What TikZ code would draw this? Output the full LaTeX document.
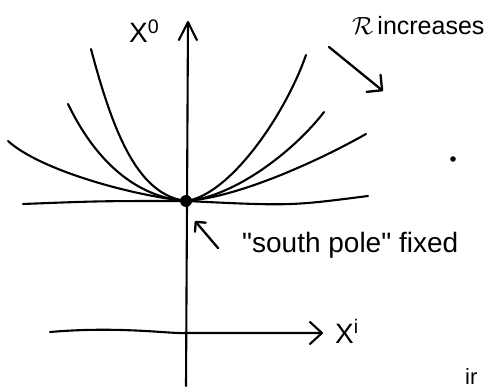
\documentclass[tikz,border=0pt]{standalone}
\usepackage{fontspec}
\setmainfont{Liberation Sans}
\usetikzlibrary{arrows.meta, positioning}

\begin{document}
\begin{tikzpicture}[
        x=1pt, y=-1pt,
        >={Straight Barb[length=18pt, width=18pt, round]},
        axis/.style={->, line width=2.1pt, line cap=round},
        curve/.style={line width=2.1pt, line cap=round},
        hint/.style={->, line width=2.3pt, line cap=round},
        lbl/.style={inner sep=0pt, anchor=base west, font=\fontsize{28}{30}\selectfont},
        small/.style={lbl, font=\fontsize{25}{27}\selectfont}
    ]
    \useasboundingbox (0,0) rectangle (489,390);

    % the fixed point
    \coordinate (pole) at (186,201);
    \fill (pole) circle (6);

    % axes
    \coordinate (vbot) at (186,386);
    \coordinate (vtop) at (188,21);
    \draw[axis] (vbot) -- (vtop);
    \coordinate (hleft) at (50,332);
    \coordinate (hright) at (323,333);
    \draw[axis, >={Straight Barb[length=12pt, width=22pt, round]}]
        (hleft) .. controls (120,326) and (170,334) .. (186,333) -- (hright);

    % flat slice
    \coordinate (flatL) at (23,204);
    \coordinate (flatR) at (368,196);
    \draw[curve] (flatL) .. controls (100,201) .. (pole)
        .. controls (290,206) .. (flatR);

    % slices on the left
    \coordinate (leftA) at (8,141);
    \coordinate (leftB) at (68,104);
    \coordinate (leftC) at (91,49);
    \draw[curve] (leftA) .. controls (40,170) and (130,195) .. (pole);
    \draw[curve] (leftB) .. controls (95,160) and (135,197) .. (pole);
    \draw[curve] (leftC) .. controls (115,140) and (140,195) .. (pole);

    % slices on the right
    \coordinate (rightA) at (366,134);
    \coordinate (rightB) at (324,112);
    \coordinate (rightC) at (306,55);
    \draw[curve] (pole) .. controls (240,197) and (320,160) .. (rightA);
    \draw[curve] (pole) .. controls (235,197) and (295,150) .. (rightB);
    \draw[curve] (pole) .. controls (230,195) and (285,115) .. (rightC);

    % labels
    \node[lbl] (xzero) at (129,43) {X\textsuperscript{0}};
    \node[lbl] (xi) at (335,343) {X\textsuperscript{i}};
    \node[small] (rinc) at (352,35) {{\fontsize{34}{36}\selectfont$\mathcal{R}$}\,increases};
    \node[lbl] (pole text) at (242,252) {\textquotedbl south pole\textquotedbl\ fixed};
    \node[lbl, font=\fontsize{22}{24}\selectfont] (cut) at (465,384) {ir};
    \fill (453,159) circle (2.8);

    % pointers
    \coordinate (rtail) at (329,47);
    \coordinate (rhead) at (383,91);
    \draw[hint, >={Straight Barb[length=11pt, width=22pt, round]}] (rtail) -- (rhead);
    \coordinate (ptail) at (218,248);
    \coordinate (phead) at (195,221);
    \draw[hint, >={Straight Barb[length=7pt, width=14pt, round]}] (ptail) -- (phead);
\end{tikzpicture}
\end{document}
